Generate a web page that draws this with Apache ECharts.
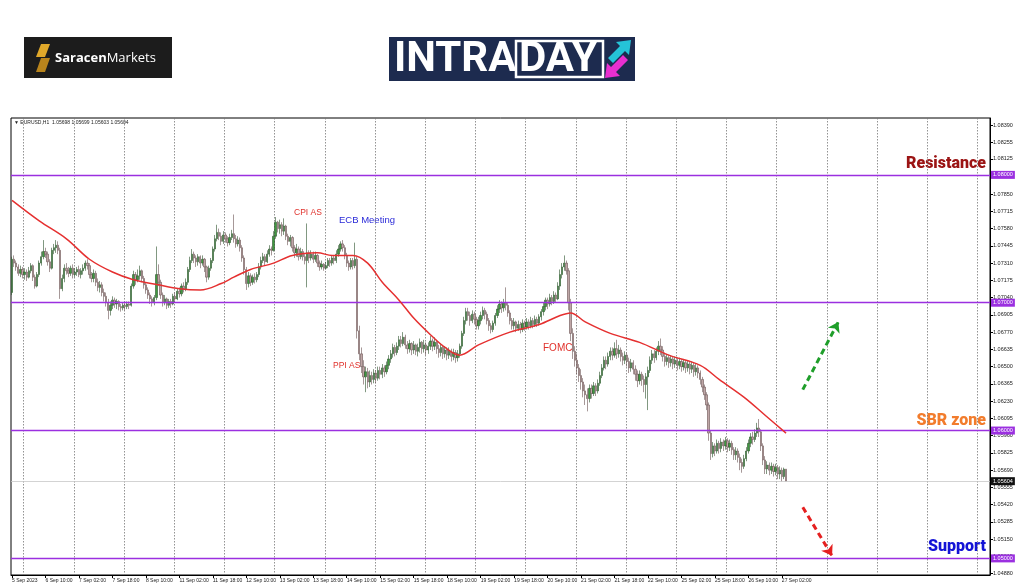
<!DOCTYPE html>
<html><head><meta charset="utf-8">
<script src="https://cdn.jsdelivr.net/npm/echarts@6/dist/echarts.min.js"></script>
<style>html,body{margin:0;padding:0;background:#fff;}#c{width:1024px;height:587px;}</style>
</head><body><div id="c"></div>
<script>
// ---- tick labels ----
const xTickLabels = ['5 Sep 2023','6 Sep 10:00','7 Sep 02:00','7 Sep 18:00','8 Sep 10:00','11 Sep 02:00','11 Sep 18:00','12 Sep 10:00','13 Sep 02:00','13 Sep 18:00','14 Sep 10:00','15 Sep 02:00','15 Sep 18:00','18 Sep 10:00','19 Sep 02:00','19 Sep 18:00','20 Sep 10:00','21 Sep 02:00','21 Sep 18:00','22 Sep 10:00','25 Sep 02:00','25 Sep 18:00','26 Sep 10:00','27 Sep 02:00'];
const yTickValues = [1.08390,1.08255,1.08125,1.07990,1.07850,1.07715,1.07580,1.07445,1.07310,1.07175,1.07040,1.06905,1.06770,1.06635,1.06500,1.06365,1.06230,1.06095,1.05960,1.05825,1.05690,1.05555,1.05420,1.05285,1.05150,1.05015,1.04880];

// ---- EURUSD H1 candles (open of each bar = previous close) ----
const firstOpen = 1.0708;
const closes = [
1.0734,1.0731,1.0728,1.0723,1.0726,1.0722,1.0724,1.0720,1.0725,1.0729,
1.0720,1.0713,1.0722,1.0731,1.0736,1.0740,1.0738,1.0732,1.0727,1.0741,
1.0743,1.0745,1.0741,1.0711,1.0719,1.0727,1.0725,1.0723,1.0727,1.0722,
1.0724,1.0726,1.0722,1.0725,1.0727,1.0731,1.0729,1.0722,1.0719,1.0723,
1.0716,1.0712,1.0714,1.0708,1.0705,1.0700,1.0694,1.0698,1.0702,1.0699,
1.0701,1.0697,1.0696,1.0698,1.0697,1.0699,1.0698,1.0713,1.0722,1.0718,
1.0721,1.0725,1.0719,1.0714,1.0710,1.0706,1.0703,1.0700,1.0704,1.0722,
1.0716,1.0706,1.0700,1.0703,1.0698,1.0701,1.0699,1.0705,1.0703,1.0709,
1.0707,1.0713,1.0711,1.0716,1.0726,1.0733,1.0738,1.0735,1.0732,1.0736,
1.0731,1.0734,1.0728,1.0720,1.0727,1.0733,1.0742,1.0750,1.0755,1.0752,
1.0748,1.0753,1.0750,1.0747,1.0751,1.0754,1.0750,1.0746,1.0749,1.0743,
1.0735,1.0726,1.0715,1.0721,1.0716,1.0720,1.0718,1.0722,1.0728,1.0733,
1.0736,1.0732,1.0738,1.0742,1.0741,1.0752,1.0763,1.0758,1.0761,1.0756,
1.0760,1.0752,1.0748,1.0751,1.0743,1.0739,1.0742,1.0736,1.0740,1.0736,
1.0733,1.0739,1.0735,1.0738,1.0734,1.0737,1.0731,1.0728,1.0730,1.0727,
1.0729,1.0733,1.0731,1.0735,1.0733,1.0738,1.0742,1.0746,1.0743,1.0737,
1.0731,1.0728,1.0733,1.0729,1.0734,1.0678,1.0660,1.0650,1.0642,1.0646,
1.0638,1.0643,1.0640,1.0645,1.0641,1.0647,1.0644,1.0649,1.0646,1.0651,
1.0656,1.0660,1.0665,1.0661,1.0666,1.0671,1.0668,1.0673,1.0667,1.0664,
1.0668,1.0663,1.0667,1.0662,1.0665,1.0669,1.0664,1.0667,1.0663,1.0666,
1.0670,1.0666,1.0669,1.0664,1.0661,1.0665,1.0660,1.0663,1.0659,1.0662,
1.0658,1.0661,1.0657,1.0660,1.0666,1.0676,1.0686,1.0693,1.0690,1.0686,
1.0691,1.0687,1.0682,1.0686,1.0690,1.0694,1.0691,1.0686,1.0682,1.0679,
1.0684,1.0690,1.0695,1.0699,1.0696,1.0700,1.0698,1.0692,1.0686,1.0682,
1.0685,1.0680,1.0683,1.0679,1.0684,1.0681,1.0685,1.0682,1.0686,1.0683,
1.0687,1.0684,1.0689,1.0693,1.0697,1.0702,1.0699,1.0704,1.0701,1.0706,
1.0703,1.0713,1.0722,1.0728,1.0731,1.0725,1.0700,1.0676,1.0662,1.0655,
1.0649,1.0643,1.0638,1.0631,1.0628,1.0625,1.0633,1.0629,1.0635,1.0631,
1.0637,1.0643,1.0649,1.0655,1.0652,1.0658,1.0662,1.0659,1.0664,1.0660,
1.0663,1.0658,1.0655,1.0659,1.0654,1.0649,1.0653,1.0648,1.0644,1.0639,
1.0644,1.0640,1.0636,1.0642,1.0647,1.0655,1.0660,1.0657,1.0662,1.0666,
1.0663,1.0658,1.0654,1.0657,1.0653,1.0656,1.0652,1.0655,1.0651,1.0654,
1.0650,1.0653,1.0649,1.0652,1.0648,1.0651,1.0646,1.0649,1.0645,1.0640,
1.0634,1.0628,1.0620,1.0598,1.0582,1.0588,1.0584,1.0590,1.0586,1.0591,
1.0588,1.0592,1.0587,1.0590,1.0585,1.0581,1.0584,1.0579,1.0575,1.0572,
1.0578,1.0584,1.0590,1.0595,1.0593,1.0598,1.0602,1.0599,1.0588,1.0577,
1.0570,1.0573,1.0569,1.0572,1.0568,1.0571,1.0566,1.0569,1.0564,1.05698,
1.05604];
const highs = [
1.0736,1.0737,1.0733,1.0730,1.0729,1.0728,1.0727,1.0726,1.0728,1.0731,
1.0730,1.0722,1.0724,1.0733,1.0740,1.0749,1.0743,1.0740,1.0734,1.0743,
1.0746,1.0749,1.0748,1.0743,1.0722,1.0730,1.0731,1.0728,1.0729,1.0730,
1.0727,1.0728,1.0729,1.0727,1.0730,1.0733,1.0734,1.0731,1.0724,1.0726,
1.0725,1.0719,1.0717,1.0716,1.0711,1.0708,1.0703,1.0701,1.0705,1.0704,
1.0703,1.0702,1.0699,1.0700,1.0700,1.0701,1.0701,1.0715,1.0725,1.0724,
1.0726,1.0729,1.0726,1.0721,1.0716,1.0712,1.0708,1.0705,1.0706,1.0744,
1.0730,1.0718,1.0708,1.0706,1.0704,1.0703,1.0703,1.0707,1.0708,1.0711,
1.0712,1.0715,1.0716,1.0719,1.0728,1.0736,1.0742,1.0740,1.0737,1.0738,
1.0737,1.0737,1.0735,1.0729,1.0729,1.0735,1.0744,1.0753,1.0761,1.0758,
1.0755,1.0756,1.0755,1.0752,1.0754,1.0757,1.0769,1.0753,1.0752,1.0751,
1.0745,1.0737,1.0728,1.0724,1.0723,1.0722,1.0723,1.0724,1.0731,1.0736,
1.0739,1.0738,1.0741,1.0745,1.0744,1.0756,1.0767,1.0764,1.0765,1.0763,
1.0766,1.0761,1.0754,1.0753,1.0752,1.0745,1.0746,1.0744,1.0743,1.0742,
1.0738,1.0762,1.0741,1.0741,1.0740,1.0740,1.0738,1.0733,1.0733,1.0731,
1.0732,1.0735,1.0735,1.0737,1.0737,1.0741,1.0745,1.0748,1.0749,1.0745,
1.0739,1.0733,1.0735,1.0735,1.0747,1.0736,1.0682,1.0665,1.0655,1.0650,
1.0649,1.0647,1.0646,1.0648,1.0647,1.0650,1.0650,1.0652,1.0651,1.0654,
1.0659,1.0663,1.0668,1.0667,1.0669,1.0674,1.0674,1.0677,1.0675,1.0670,
1.0671,1.0669,1.0670,1.0668,1.0668,1.0672,1.0670,1.0671,1.0669,1.0669,
1.0674,1.0672,1.0673,1.0671,1.0667,1.0668,1.0667,1.0666,1.0665,1.0665,
1.0664,1.0664,1.0663,1.0663,1.0668,1.0678,1.0689,1.0696,1.0696,1.0693,
1.0694,1.0693,1.0689,1.0689,1.0693,1.0697,1.0696,1.0693,1.0688,1.0684,
1.0686,1.0692,1.0698,1.0702,1.0701,1.0703,1.0712,1.0700,1.0694,1.0688,
1.0688,1.0686,1.0686,1.0685,1.0687,1.0686,1.0688,1.0687,1.0689,1.0688,
1.0690,1.0689,1.0691,1.0695,1.0700,1.0704,1.0704,1.0707,1.0706,1.0709,
1.0708,1.0716,1.0726,1.0731,1.0737,1.0733,1.0727,1.0703,1.0680,1.0666,
1.0660,1.0652,1.0648,1.0641,1.0636,1.0633,1.0636,1.0636,1.0638,1.0637,
1.0640,1.0646,1.0652,1.0658,1.0658,1.0661,1.0665,1.0665,1.0669,1.0671,
1.0667,1.0665,1.0661,1.0662,1.0661,1.0657,1.0656,1.0655,1.0651,1.0647,
1.0647,1.0646,1.0643,1.0645,1.0650,1.0658,1.0663,1.0663,1.0665,1.0670,
1.0672,1.0666,1.0661,1.0660,1.0659,1.0659,1.0658,1.0658,1.0657,1.0657,
1.0656,1.0656,1.0655,1.0655,1.0654,1.0654,1.0653,1.0652,1.0651,1.0647,
1.0642,1.0636,1.0630,1.0622,1.0600,1.0591,1.0590,1.0593,1.0592,1.0594,
1.0593,1.0595,1.0594,1.0593,1.0592,1.0587,1.0587,1.0586,1.0582,1.0578,
1.0581,1.0587,1.0593,1.0598,1.0599,1.0601,1.0606,1.0609,1.0601,1.0590,
1.0580,1.0576,1.0575,1.0575,1.0574,1.0574,1.0573,1.0572,1.0571,1.0571,
1.05699];
const lows = [
1.0706,1.0728,1.0725,1.0721,1.0720,1.0719,1.0718,1.0717,1.0719,1.0723,
1.0717,1.0711,1.0712,1.0720,1.0729,1.0734,1.0735,1.0729,1.0724,1.0726,
1.0738,1.0739,1.0738,1.0703,1.0709,1.0716,1.0722,1.0720,1.0721,1.0719,
1.0720,1.0721,1.0720,1.0719,1.0722,1.0725,1.0726,1.0719,1.0716,1.0716,
1.0713,1.0709,1.0708,1.0705,1.0701,1.0697,1.0687,1.0690,1.0695,1.0696,
1.0695,1.0694,1.0693,1.0694,1.0694,1.0695,1.0695,1.0697,1.0711,1.0714,
1.0716,1.0718,1.0716,1.0711,1.0707,1.0703,1.0699,1.0697,1.0698,1.0702,
1.0713,1.0703,1.0697,1.0698,1.0695,1.0696,1.0696,1.0698,1.0700,1.0702,
1.0704,1.0705,1.0708,1.0709,1.0714,1.0724,1.0731,1.0731,1.0728,1.0729,
1.0727,1.0729,1.0724,1.0716,1.0718,1.0725,1.0731,1.0740,1.0748,1.0749,
1.0745,1.0746,1.0747,1.0744,1.0745,1.0749,1.0747,1.0743,1.0744,1.0740,
1.0732,1.0722,1.0710,1.0712,1.0713,1.0714,1.0715,1.0716,1.0720,1.0726,
1.0731,1.0729,1.0731,1.0736,1.0737,1.0740,1.0750,1.0755,1.0754,1.0752,
1.0753,1.0749,1.0745,1.0744,1.0740,1.0735,1.0736,1.0733,1.0734,1.0733,
1.0730,1.0712,1.0731,1.0733,1.0731,1.0732,1.0728,1.0725,1.0726,1.0725,
1.0726,1.0727,1.0728,1.0729,1.0730,1.0731,1.0736,1.0740,1.0740,1.0734,
1.0728,1.0725,1.0726,1.0726,1.0727,1.0672,1.0655,1.0645,1.0636,1.0630,
1.0633,1.0634,1.0636,1.0637,1.0637,1.0639,1.0640,1.0641,1.0642,1.0644,
1.0648,1.0653,1.0657,1.0658,1.0659,1.0663,1.0665,1.0666,1.0664,1.0660,
1.0661,1.0659,1.0660,1.0659,1.0658,1.0661,1.0660,1.0661,1.0659,1.0660,
1.0663,1.0662,1.0663,1.0660,1.0657,1.0658,1.0656,1.0657,1.0655,1.0656,
1.0654,1.0655,1.0653,1.0654,1.0657,1.0664,1.0674,1.0683,1.0686,1.0682,
1.0684,1.0683,1.0679,1.0679,1.0683,1.0687,1.0687,1.0683,1.0678,1.0676,
1.0677,1.0682,1.0688,1.0692,1.0692,1.0693,1.0694,1.0689,1.0683,1.0679,
1.0679,1.0677,1.0678,1.0676,1.0677,1.0678,1.0679,1.0679,1.0680,1.0680,
1.0681,1.0681,1.0682,1.0686,1.0690,1.0694,1.0695,1.0697,1.0698,1.0699,
1.0700,1.0702,1.0710,1.0719,1.0725,1.0722,1.0694,1.0670,1.0656,1.0650,
1.0644,1.0638,1.0632,1.0626,1.0620,1.0615,1.0622,1.0625,1.0627,1.0627,
1.0629,1.0635,1.0641,1.0647,1.0648,1.0650,1.0655,1.0655,1.0657,1.0656,
1.0657,1.0654,1.0651,1.0652,1.0650,1.0645,1.0646,1.0644,1.0639,1.0634,
1.0636,1.0635,1.0630,1.0625,1.0616,1.0645,1.0652,1.0653,1.0655,1.0659,
1.0659,1.0654,1.0650,1.0651,1.0649,1.0650,1.0648,1.0649,1.0647,1.0648,
1.0646,1.0647,1.0645,1.0646,1.0644,1.0645,1.0642,1.0643,1.0641,1.0636,
1.0630,1.0624,1.0616,1.0592,1.0577,1.0579,1.0580,1.0582,1.0582,1.0583,
1.0584,1.0585,1.0583,1.0584,1.0581,1.0577,1.0577,1.0575,1.0569,1.0567,
1.0570,1.0576,1.0582,1.0587,1.0589,1.0591,1.0595,1.0595,1.0584,1.0573,
1.0566,1.0566,1.0565,1.0566,1.0564,1.0565,1.0562,1.0562,1.0560,1.0562,
1.05603];

// ---- moving average (bar index, value) ----
const maBars   = [0,13,26,37,48,58,70,80,90,100,106,114,125,134,146,153,163,170,177,185,192,200,207,214,223,238,252,262,267,274,286,300,314,329,338,350,360,370];
const maValues = [1.0780,1.0764,1.0750,1.0734,1.0724,1.0718,1.0714,1.0711,1.0710,1.0715,1.0720,1.0726,1.0731,1.0737,1.0739,1.0737,1.0737,1.0731,1.0716,1.0702,1.0688,1.0675,1.0665,1.0659,1.0667,1.0677,1.0683,1.0690,1.0692,1.0685,1.0676,1.0669,1.0659,1.0651,1.0640,1.0626,1.0612,1.0598];

// ---- levels ----
const levelLines = [1.08, 1.07, 1.06, 1.05];
const lastPrice = 1.05604;
const totalSlots = 468;   // bars + empty chart shift space on the right
const upArrow = [[378, 1.0632], [395, 1.0685]];
const downArrow = [[378, 1.0540], [392, 1.0502]];

const candles = closes.map((c, i) => {
  const o = i === 0 ? firstOpen : closes[i - 1];
  return [o, c, Math.min(lows[i], o, c), Math.max(highs[i], o, c)];
});
const categories = Array.from({length: totalSlots}, (_, i) => String(i));
const labelInterval = (i) => i % 16 === 0 && i / 16 < xTickLabels.length;
const PURPLE = '#9b30e0';
const SMALL = 'Liberation Sans';

const levelItems = levelLines.map(v => ({
  yAxis: v, symbol: 'none',
  lineStyle: {color: PURPLE, width: 1.3, type: 'solid'},
  label: {show: true, position: 'end', distance: 1, formatter: v.toFixed(5), color: '#fff', backgroundColor: PURPLE, fontSize: 5.5, padding: [1, 2], fontFamily: SMALL}
}));
const lastItem = {
  yAxis: lastPrice, symbol: 'none',
  lineStyle: {color: '#c8c8c8', width: 0.8, type: 'solid'},
  label: {show: true, position: 'end', distance: 1, formatter: lastPrice.toFixed(5), color: '#fff', backgroundColor: '#111', fontSize: 5.5, padding: [1, 2], fontFamily: SMALL}
};

const chart = echarts.init(document.getElementById('c'), null, {renderer: 'canvas'});
const option = {
  animation: false,
  backgroundColor: '#ffffff',
  grid: {left: 11, right: 34, top: 118, bottom: 12, show: true, borderColor: '#000', borderWidth: 1, backgroundColor: 'transparent'},
  xAxis: {
    type: 'category', data: categories, boundaryGap: true,
    axisLine: {show: true, lineStyle: {color: '#000', width: 1}},
    axisTick: {show: true, interval: labelInterval, length: 3, alignWithLabel: true, lineStyle: {color: '#000'}},
    axisLabel: {interval: labelInterval, formatter: (v, i) => xTickLabels[i / 16] || '', fontSize: 5, color: '#222', margin: 3, align: 'left', fontFamily: SMALL},
    splitLine: {show: true, interval: (i) => i >= 6 && (i - 6) % 24 === 0, lineStyle: {color: '#777', type: [1.5, 1.5], width: 0.8}}
  },
  yAxis: {
    type: 'value', position: 'right', min: 1.0487, max: 1.08445, scale: true,
    splitLine: {show: false},
    axisLine: {show: true, lineStyle: {color: '#000'}},
    axisTick: {show: true, customValues: yTickValues, length: 3, lineStyle: {color: '#000'}},
    axisLabel: {customValues: yTickValues, formatter: (v) => v.toFixed(5), fontSize: 5.5, color: '#222', margin: 3, fontFamily: SMALL}
  },
  series: [
    {
      type: 'candlestick', data: candles, barWidth: 1.8, z: 3,
      itemStyle: {color: '#3f9a3f', color0: '#bfa6a6', borderColor: '#2c522c', borderColor0: '#6a5252', borderWidth: 0.6}
    },
    {
      type: 'line', data: maBars.map((b, k) => [b, maValues[k]]), smooth: 0.35, showSymbol: false,
      lineStyle: {color: '#e53030', width: 1.5}, z: 5,
      markLine: {
        symbol: 'none', silent: true, animation: false, precision: 5,
        data: levelItems.concat([lastItem]).concat([
          [{coord: upArrow[0], symbol: 'none', lineStyle: {color: '#1f9e2a', width: 3, type: [6, 4]}, label: {show: false}},
           {coord: upArrow[1], symbol: 'arrow', symbolSize: 10}],
          [{coord: downArrow[0], symbol: 'none', lineStyle: {color: '#e52020', width: 3, type: [6, 4]}, label: {show: false}},
           {coord: downArrow[1], symbol: 'arrow', symbolSize: 10}]
        ])
      }
    }
  ],
  graphic: [
    // Saracen Markets logo
    {type: 'rect', shape: {x: 24, y: 37, width: 148, height: 41}, style: {fill: '#1c1c1c'}},
    {type: 'polygon', shape: {points: [[41, 44], [50, 44], [45, 57], [36, 57]]}, style: {fill: '#e0a82a'}},
    {type: 'polygon', shape: {points: [[41, 58], [50, 58], [45, 72], [36, 72]]}, style: {fill: '#b8841c'}},
    {type: 'text', x: 55, y: 58, style: {text: '{a|Saracen}{b|Markets}', textVerticalAlign: 'middle',
      rich: {a: {fill: '#fff', fontSize: 13, fontWeight: 'bold', fontFamily: 'Open Sans'}, b: {fill: '#fff', fontSize: 13, fontFamily: 'Open Sans'}}}},
    // INTRADAY logo
    {type: 'rect', shape: {x: 389, y: 37, width: 246, height: 44}, style: {fill: '#1d2b4f'}},
    {type: 'text', x: 394, y: 60, style: {text: 'INTRA', fill: '#fff', fontSize: 42, fontWeight: 'bold', fontFamily: 'Roboto', textVerticalAlign: 'middle'}},
    {type: 'rect', shape: {x: 516, y: 41, width: 87, height: 36}, style: {fill: 'none', stroke: '#fff', lineWidth: 2.5}},
    {type: 'text', x: 519, y: 60, style: {text: 'DAY', fill: '#fff', fontSize: 42, fontWeight: 'bold', fontFamily: 'Roboto', textVerticalAlign: 'middle'}},
    {type: 'polygon', shape: {points: [[608, 58], [620, 46], [616, 42], [631, 40], [629, 55], [625, 51], [613, 63]]}, style: {fill: '#25c4d8'}},
    {type: 'polygon', shape: {points: [[628, 60], [616, 72], [620, 76], [605, 78], [607, 63], [611, 67], [623, 55]]}, style: {fill: '#e92fd0'}},
    // header
    {type: 'text', x: 14, y: 123, style: {text: '\u25BC EURUSD,H1  1.05698 1.05699 1.05603 1.05604', fill: '#222', fontSize: 5, fontFamily: SMALL, textVerticalAlign: 'middle'}},
    // annotations
    {type: 'text', x: 294, y: 213, style: {text: 'CPI AS', fill: '#e0302a', fontSize: 8.5, fontFamily: 'Liberation Sans', textVerticalAlign: 'middle'}},
    {type: 'text', x: 339, y: 220, style: {text: 'ECB Meeting', fill: '#2a2ad8', fontSize: 9.5, fontFamily: 'Liberation Sans', textVerticalAlign: 'middle'}},
    {type: 'text', x: 333, y: 366, style: {text: 'PPI AS', fill: '#e0302a', fontSize: 8.5, fontFamily: 'Liberation Sans', textVerticalAlign: 'middle'}},
    {type: 'text', x: 543, y: 348, style: {text: 'FOMC', fill: '#e0302a', fontSize: 10, fontFamily: 'Liberation Sans', textVerticalAlign: 'middle'}},
    {type: 'text', x: 986, y: 164, style: {text: 'Resistance', fill: '#9b1414', fontSize: 16, fontWeight: 900, fontFamily: 'Roboto', textAlign: 'right', textVerticalAlign: 'middle'}},
    {type: 'text', x: 986, y: 421, style: {text: 'SBR zone', fill: '#f27c2c', fontSize: 16, fontWeight: 900, fontFamily: 'Roboto', textAlign: 'right', textVerticalAlign: 'middle'}},
    {type: 'text', x: 986, y: 547, style: {text: 'Support', fill: '#1414d6', fontSize: 16, fontWeight: 900, fontFamily: 'Roboto', textAlign: 'right', textVerticalAlign: 'middle'}}
  ]
};
chart.setOption(option);
</script>
</body></html>
